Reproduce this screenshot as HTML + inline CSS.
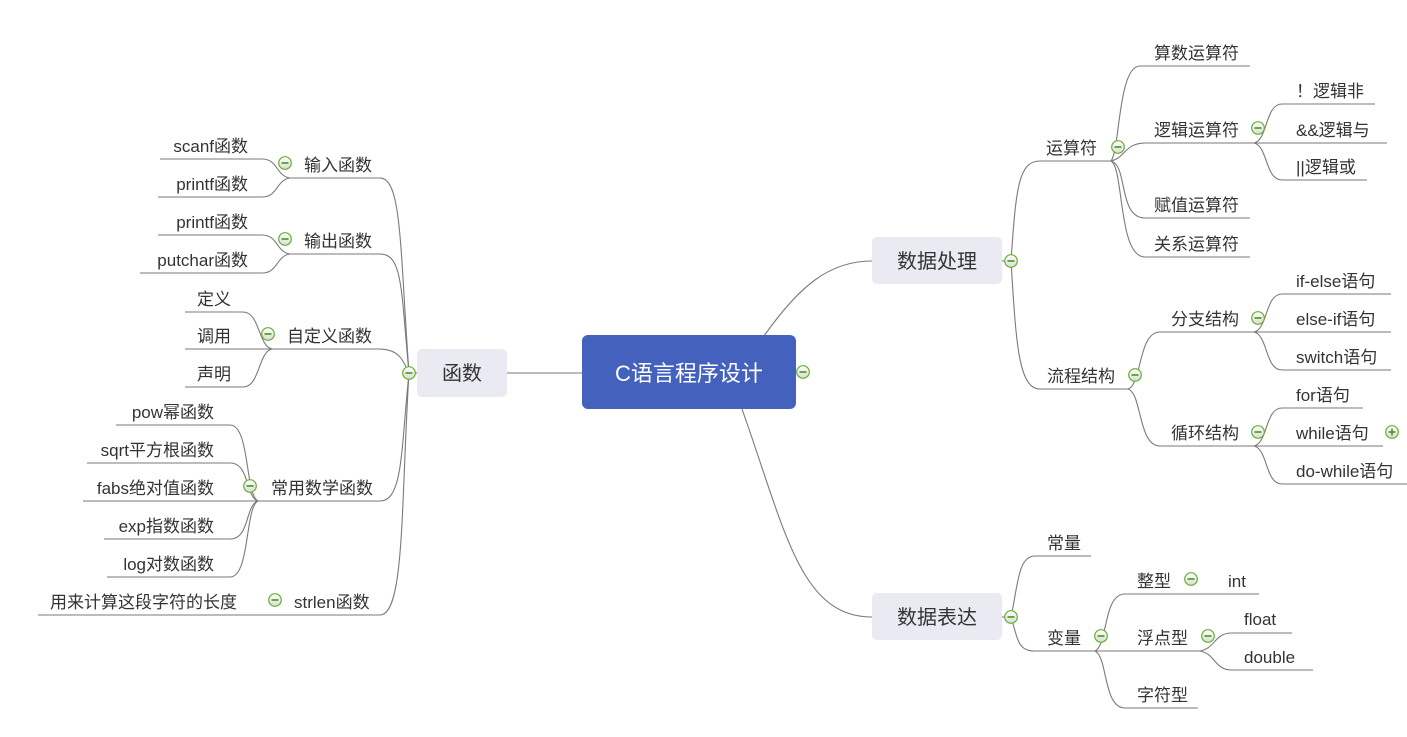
<!DOCTYPE html>
<html><head><meta charset="utf-8">
<style>
html,body{margin:0;padding:0;background:#fff;}
svg{display:block;}
text{font-family:"Liberation Sans","Noto Sans CJK SC",sans-serif;fill:#333;font-size:17px;}
.l{fill:none;stroke:#7a7a7a;stroke-width:1.1;}
</style></head><body>
<svg width="1407" height="737" viewBox="0 0 1407 737" xmlns="http://www.w3.org/2000/svg">
<defs>
<linearGradient id="g" x1="0" y1="0" x2="0" y2="1">
<stop offset="0" stop-color="#ffffff"/><stop offset="1" stop-color="#d6dcd2"/>
</linearGradient>
<g id="m"><circle r="6.3" fill="url(#g)" stroke="#6aae34" stroke-width="1.2"/><line x1="-3.5" y1="0" x2="3.5" y2="0" stroke="#3f8f12" stroke-width="1.5"/></g>
<g id="p"><circle r="6.3" fill="url(#g)" stroke="#6aae34" stroke-width="1.2"/><line x1="-3.5" y1="0" x2="3.5" y2="0" stroke="#3f8f12" stroke-width="1.5"/><line x1="0" y1="-3.5" x2="0" y2="3.5" stroke="#3f8f12" stroke-width="1.5"/></g>
</defs>

<!-- center connections -->
<path class="l" d="M507 373 L582 373"/>
<path class="l" d="M764 336 C800 285 830 261 872 261"/>
<path class="l" d="M742 409 C785 530 800 617 872 617"/>
<path class="l" d="M1002 261 L1011 261"/>
<path class="l" d="M1002 617 L1011 617"/>
<path class="l" d="M417 373 L409 373"/>

<!-- main nodes -->
<rect x="582" y="335" width="214" height="74" rx="6" fill="#4361bd"/>
<text x="689" y="381" text-anchor="middle" style="fill:#fff;font-size:22px">C语言程序设计</text>
<rect x="872" y="237" width="130" height="47" rx="5" fill="#e9eaf2"/>
<text x="937" y="268" text-anchor="middle" style="font-size:20px">数据处理</text>
<rect x="872" y="593" width="130" height="47" rx="5" fill="#e9eaf2"/>
<text x="937" y="624" text-anchor="middle" style="font-size:20px">数据表达</text>
<rect x="417" y="349" width="90" height="48" rx="5" fill="#e9eaf2"/>
<text x="462" y="380" text-anchor="middle" style="font-size:20px">函数</text>

<!-- RIGHT: 数据处理 -->
<path class="l" d="M1011 261 C1016 190 1018 161 1040 161 L1111 161"/>
<path class="l" d="M1011 261 C1016 340 1018 389 1040 389 L1128 389"/>
<text x="1046" y="154">运算符</text>
<text x="1047" y="382">流程结构</text>

<!-- 运算符 children -->
<path class="l" d="M1111 161 C1120 150 1118 66 1140 66 L1250 66"/>
<path class="l" d="M1111 161 C1125 158 1125 143 1145 143 L1254 143"/>
<path class="l" d="M1111 161 C1128 165 1118 218 1145 218 L1250 218"/>
<path class="l" d="M1111 161 C1124 168 1118 257 1145 257 L1250 257"/>
<text x="1154" y="59">算数运算符</text>
<text x="1154" y="136">逻辑运算符</text>
<text x="1154" y="211">赋值运算符</text>
<text x="1154" y="250">关系运算符</text>

<!-- 逻辑 children -->
<path class="l" d="M1254 143 C1268 140 1265 104 1282 104 L1375 104"/>
<path class="l" d="M1254 143 L1387 143"/>
<path class="l" d="M1254 143 C1268 146 1265 180 1282 180 L1367 180"/>
<text x="1296" y="97">！逻辑非</text>
<text x="1296" y="136">&amp;&amp;逻辑与</text>
<text x="1296" y="173">||逻辑或</text>

<!-- 流程结构 children -->
<path class="l" d="M1128 389 C1142 385 1138 332 1160 332 L1254 332"/>
<path class="l" d="M1128 389 C1142 393 1138 446 1160 446 L1254 446"/>
<text x="1171" y="325">分支结构</text>
<text x="1171" y="439">循环结构</text>

<path class="l" d="M1254 332 C1268 329 1265 294 1282 294 L1391 294"/>
<path class="l" d="M1254 332 L1391 332"/>
<path class="l" d="M1254 332 C1268 335 1265 370 1282 370 L1391 370"/>
<text x="1296" y="287">if-else语句</text>
<text x="1296" y="325">else-if语句</text>
<text x="1296" y="363">switch语句</text>

<path class="l" d="M1254 446 C1268 443 1265 408 1282 408 L1363 408"/>
<path class="l" d="M1254 446 L1383 446"/>
<path class="l" d="M1254 446 C1268 449 1265 484 1282 484 L1407 484"/>
<text x="1296" y="401">for语句</text>
<text x="1296" y="439">while语句</text>
<text x="1296" y="477">do-while语句</text>

<!-- RIGHT: 数据表达 -->
<path class="l" d="M1011 617 C1018 585 1018 556 1035 556 L1091 556"/>
<path class="l" d="M1011 617 C1018 640 1018 651 1035 651 L1095 651"/>
<text x="1047" y="549">常量</text>
<text x="1047" y="644">变量</text>

<path class="l" d="M1095 651 C1108 645 1103 594 1125 594 L1259 594"/>
<path class="l" d="M1095 651 L1200 651"/>
<path class="l" d="M1095 651 C1108 657 1103 708 1125 708 L1198 708"/>
<text x="1137" y="587">整型</text>
<text x="1228" y="587">int</text>
<text x="1137" y="644">浮点型</text>
<text x="1137" y="701">字符型</text>

<path class="l" d="M1200 651 C1216 648 1214 633 1232 633 L1292 633"/>
<path class="l" d="M1200 651 C1216 654 1214 670 1232 670 L1313 670"/>
<text x="1244" y="625">float</text>
<text x="1244" y="663">double</text>

<!-- LEFT: 函数 children -->
<path class="l" d="M409 373 C400 250 402 178 380 178 L290 178"/>
<path class="l" d="M409 373 C401 290 403 254 380 254 L290 254"/>
<path class="l" d="M409 373 C402 358 398 349 378 349 L272 349"/>
<path class="l" d="M409 373 C401 450 403 501 380 501 L258 501"/>
<path class="l" d="M409 373 C401 500 405 615 380 615 L38 615"/>
<text x="304" y="171">输入函数</text>
<text x="304" y="247">输出函数</text>
<text x="287" y="342">自定义函数</text>
<text x="271" y="494">常用数学函数</text>
<text x="294" y="608">strlen函数</text>
<text x="50" y="608">用来计算这段字符的长度</text>

<!-- 输入函数 children -->
<path class="l" d="M290 178 C276 176 278 159 262 159 L160 159"/>
<path class="l" d="M290 178 C276 180 278 197 262 197 L158 197"/>
<text x="248" y="152" text-anchor="end">scanf函数</text>
<text x="248" y="190" text-anchor="end">printf函数</text>

<!-- 输出函数 children -->
<path class="l" d="M290 254 C276 252 278 235 262 235 L158 235"/>
<path class="l" d="M290 254 C276 256 278 273 262 273 L140 273"/>
<text x="248" y="228" text-anchor="end">printf函数</text>
<text x="248" y="266" text-anchor="end">putchar函数</text>

<!-- 自定义 children -->
<path class="l" d="M272 349 C258 346 260 312 243 312 L185 312"/>
<path class="l" d="M272 349 L185 349"/>
<path class="l" d="M272 349 C258 352 260 387 243 387 L185 387"/>
<text x="197" y="305">定义</text>
<text x="197" y="342">调用</text>
<text x="197" y="380">声明</text>

<!-- 数学 children -->
<path class="l" d="M258 501 C245 495 250 425 230 425 L116 425"/>
<path class="l" d="M258 501 C245 497 250 463 230 463 L87 463"/>
<path class="l" d="M258 501 L83 501"/>
<path class="l" d="M258 501 C245 505 250 539 230 539 L104 539"/>
<path class="l" d="M258 501 C245 507 250 577 230 577 L107 577"/>
<text x="214" y="418" text-anchor="end">pow幂函数</text>
<text x="214" y="456" text-anchor="end">sqrt平方根函数</text>
<text x="214" y="494" text-anchor="end">fabs绝对值函数</text>
<text x="214" y="532" text-anchor="end">exp指数函数</text>
<text x="214" y="570" text-anchor="end">log对数函数</text>

<!-- icons -->
<use href="#m" x="803" y="372"/>
<use href="#m" x="1011" y="261"/>
<use href="#m" x="1011" y="617"/>
<use href="#m" x="409" y="373"/>
<use href="#m" x="1118" y="147"/>
<use href="#m" x="1258" y="128"/>
<use href="#m" x="1135" y="375"/>
<use href="#m" x="1258" y="318"/>
<use href="#m" x="1258" y="432"/>
<use href="#p" x="1392" y="432"/>
<use href="#m" x="1101" y="636"/>
<use href="#m" x="1191" y="579"/>
<use href="#m" x="1208" y="636"/>
<use href="#m" x="285" y="163"/>
<use href="#m" x="285" y="239"/>
<use href="#m" x="268" y="334"/>
<use href="#m" x="250" y="486"/>
<use href="#m" x="275" y="600"/>
</svg>
</body></html>
